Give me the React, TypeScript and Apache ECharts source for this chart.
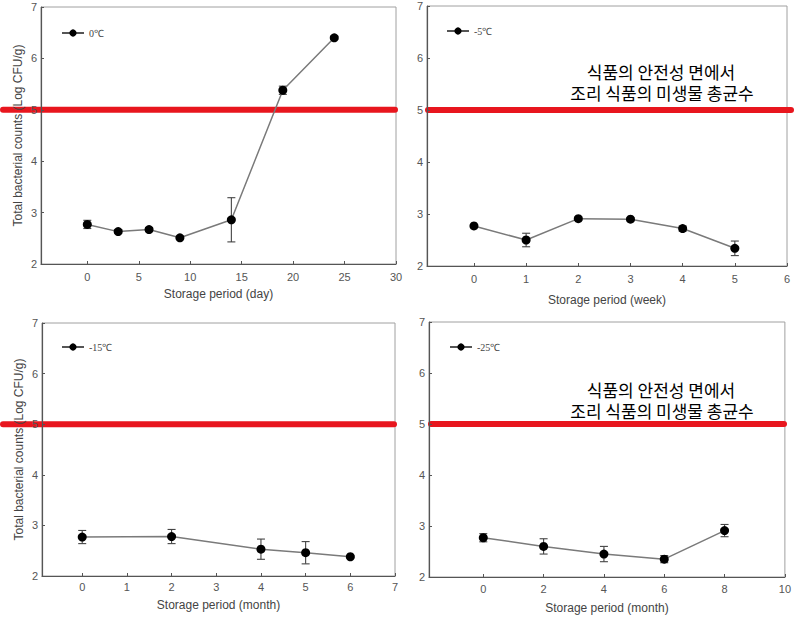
import React, { useEffect, useRef } from "react";
import * as echarts from "echarts";

// ---- data ----
const dayX = [0, 3, 6, 9, 14, 19, 24];
const dayY = [2.77, 2.63, 2.67, 2.51, 2.86, 5.38, 6.4];
const dayErr = [0.08, 0.03, 0.04, 0.02, 0.43, 0.08, 0.03];

const weekX = [0, 1, 2, 3, 4, 5];
const weekY = [2.77, 2.5, 2.91, 2.9, 2.72, 2.34];
const weekErr = [0.02, 0.13, 0.03, 0.03, 0.05, 0.14];

const m15X = [0, 2, 4, 5, 6];
const m15Y = [2.77, 2.78, 2.53, 2.46, 2.38];
const m15Err = [0.13, 0.14, 0.2, 0.22, 0.02];

const m25X = [0, 2, 4, 6, 8];
const m25Y = [2.77, 2.6, 2.45, 2.35, 2.91];
const m25Err = [0.08, 0.15, 0.15, 0.07, 0.12];

const seriesNames = ["0℃", "-5℃", "-15℃", "-25℃"];
const xNames = [
  "Storage period (day)",
  "Storage period (week)",
  "Storage period (month)",
  "Storage period (month)",
];
const yName = "Total bacterial counts (Log CFU/g)";
const xTicks1 = [0, 5, 10, 15, 20, 25, 30];
const xTicks2 = [0, 1, 2, 3, 4, 5, 6];
const xTicks3 = [0, 1, 2, 3, 4, 5, 6, 7];
const xTicks4 = [0, 2, 4, 6, 8, 10];
const xMins = [-4.5, -0.9, -0.9, -1.8];
const xMaxs = [30, 6, 7, 10];
const yMin = 2;
const yMax = 7;
const limitValue = 5;
const noteLine1 = "식품의 안전성 면에서";
const noteLine2 = "조리 식품의 미생물 총균수";

const App: React.FC = () => {
  const ref = useRef<HTMLDivElement>(null);

  useEffect(() => {
    if (!ref.current) return;
    const chart = echarts.init(ref.current, undefined, { renderer: "svg" });

    const panels = [
      { xs: dayX, ys: dayY, es: dayErr, ticks: xTicks1 },
      { xs: weekX, ys: weekY, es: weekErr, ticks: xTicks2 },
      { xs: m15X, ys: m15Y, es: m15Err, ticks: xTicks3 },
      { xs: m25X, ys: m25Y, es: m25Err, ticks: xTicks4 },
    ];

    const grids = [
      { left: 41, top: 7, width: 355, height: 257 },
      { left: 427, top: 6, width: 360, height: 260 },
      { left: 42, top: 323, width: 353, height: 253 },
      { left: 429, top: 322, width: 357, height: 255 },
    ];
    const redGrids = [
      { left: 3, top: 7, width: 392, height: 257 },
      { left: 428, top: 6, width: 363, height: 260 },
      { left: 3, top: 323, width: 391, height: 253 },
      { left: 431, top: 322, width: 353, height: 255 },
    ];
    const xNameGaps = [24, 28, 23, 25];
    const xLabelMargins = [7, 7, 5, 6];
    const legendPos = [
      { left: 61, top: 28 },
      { left: 446, top: 26 },
      { left: 61, top: 342 },
      { left: 449, top: 342 },
    ];

    const font = "'Liberation Sans', Arial, sans-serif";

    const gridOpt: any[] = [];
    const xAxes: any[] = [];
    const yAxes: any[] = [];
    const series: any[] = [];

    panels.forEach((p, i) => {
      gridOpt.push({
        ...grids[i],
        show: true,
        borderColor: "#a0a0a0",
        borderWidth: 1,
        backgroundColor: "transparent",
        containLabel: false,
      });
      xAxes.push({
        type: "value",
        gridIndex: i,
        min: xMins[i],
        max: xMaxs[i],
        z: 10,
        name: xNames[i],
        nameLocation: "middle",
        nameGap: xNameGaps[i],
        nameTextStyle: { fontFamily: font, fontSize: 12, color: "#444" },
        axisLine: { show: true, onZero: false, lineStyle: { color: "#555", width: 1.2 } },
        axisTick: {
          show: true,
          inside: true,
          length: 3,
          customValues: p.ticks,
          lineStyle: { color: "#555" },
        },
        axisLabel: {
          customValues: p.ticks,
          fontFamily: font,
          fontSize: 11,
          color: "#555",
          margin: xLabelMargins[i],
        },
        splitLine: { show: false },
      });
      yAxes.push({
        type: "value",
        gridIndex: i,
        min: yMin,
        max: yMax,
        interval: 1,
        z: 10,
        name: i % 2 === 0 ? yName : "",
        nameLocation: "middle",
        nameGap: 17,
        nameTextStyle: { fontFamily: font, fontSize: 12, color: "#444" },
        axisLine: { show: true, onZero: false, lineStyle: { color: "#555", width: 1.2 } },
        axisTick: { show: true, inside: true, length: 3, lineStyle: { color: "#555" } },
        axisLabel: { fontFamily: font, fontSize: 11, color: "#555", margin: 4 },
        splitLine: { show: false },
      });
      series.push({
        type: "line",
        name: seriesNames[i],
        xAxisIndex: i,
        yAxisIndex: i,
        data: p.xs.map((x, k) => [x, p.ys[k]]),
        symbol: "circle",
        symbolSize: 9,
        itemStyle: { color: "#000" },
        lineStyle: { color: "#7a7a7a", width: 1.5 },
        z: 5,
      });
      series.push({
        type: "custom",
        name: seriesNames[i] + " err",
        xAxisIndex: i,
        yAxisIndex: i,
        clip: false,
        z: 4,
        encode: { x: 0, y: 1 },
        data: p.xs.map((x, k) => [x, p.ys[k], p.es[k]]),
        renderItem: (params: any, api: any) => {
          const x = api.value(0);
          const y = api.value(1);
          const e = api.value(2);
          const t = api.coord([x, y + e]);
          const b = api.coord([x, y - e]);
          const hw = 4;
          const st = { stroke: "#444", lineWidth: 1.1 };
          return {
            type: "group",
            children: [
              { type: "line", shape: { x1: t[0], y1: t[1], x2: b[0], y2: b[1] }, style: st },
              { type: "line", shape: { x1: t[0] - hw, y1: t[1], x2: t[0] + hw, y2: t[1] }, style: st },
              { type: "line", shape: { x1: b[0] - hw, y1: b[1], x2: b[0] + hw, y2: b[1] }, style: st },
            ],
          };
        },
      });
    });

    // red limit lines on helper grids
    redGrids.forEach((g, i) => {
      const gi = 4 + i;
      gridOpt.push({ ...g, show: false });
      xAxes.push({ type: "value", gridIndex: gi, min: 0, max: 1, show: false });
      yAxes.push({ type: "value", gridIndex: gi, min: yMin, max: yMax, show: false });
      series.push({
        type: "line",
        name: "limit" + i,
        xAxisIndex: gi,
        yAxisIndex: gi,
        data: [
          [0, limitValue],
          [1, limitValue],
        ],
        symbol: "none",
        silent: true,
        z: 0,
        lineStyle: { color: "#e8161e", width: 6, cap: "round" },
      });
    });

    const legends = seriesNames.map((n, i) => ({
      data: [n],
      left: legendPos[i].left,
      top: legendPos[i].top,
      padding: 0,
      orient: "horizontal",
      itemWidth: 22,
      itemHeight: 9,
      selectedMode: false,
      lineStyle: { color: "#555" },
      textStyle: {
        fontFamily: "'Liberation Serif', 'Times New Roman', serif",
        fontSize: 10,
        color: "#444",
      },
    }));

    const noteStyle = (text: string) => ({
      text,
      fontFamily: "'Noto Sans CJK KR', sans-serif",
      fontSize: 17,
      fill: "#000",
      textAlign: "center",
      textVerticalAlign: "middle",
    });

    chart.setOption({
      animation: false,
      backgroundColor: "#fff",
      grid: gridOpt,
      xAxis: xAxes,
      yAxis: yAxes,
      legend: legends,
      series,
      graphic: [
        { type: "text", x: 661, y: 71.5, z: 10, style: noteStyle(noteLine1) },
        { type: "text", x: 662, y: 92.5, z: 10, style: noteStyle(noteLine2) },
        { type: "text", x: 661, y: 389.5, z: 10, style: noteStyle(noteLine1) },
        { type: "text", x: 662, y: 410.5, z: 10, style: noteStyle(noteLine2) },
      ],
    });

    return () => chart.dispose();
  }, []);

  return (
    <div
      ref={ref}
      style={{ position: "absolute", left: 0, top: 0, width: 794, height: 621, background: "#fff" }}
    />
  );
};

export default App;
